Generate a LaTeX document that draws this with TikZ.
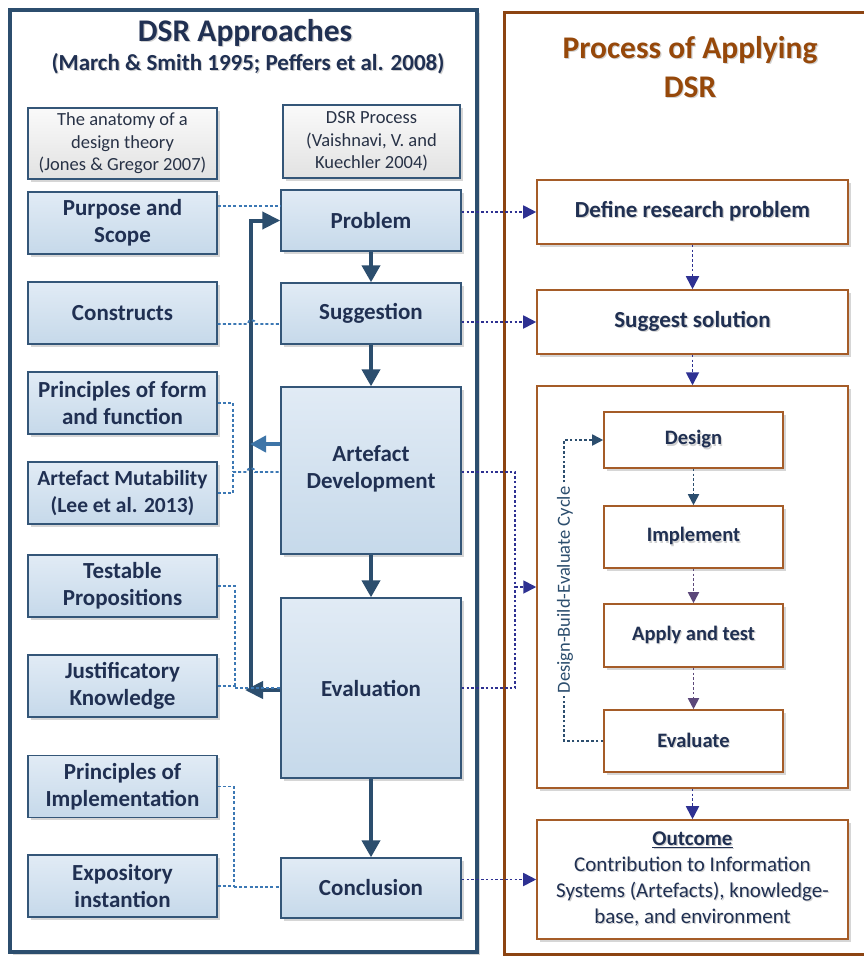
\documentclass[tikz,border=0pt]{standalone}
\usepackage{fontspec}
\setmainfont{Carlito}
\usetikzlibrary{arrows.meta,shadows,calc}

\definecolor{frameblue}{RGB}{44,78,110}
\definecolor{boxedge}{RGB}{52,86,120}
\definecolor{boxtop}{RGB}{225,235,245}
\definecolor{boxbot}{RGB}{198,217,234}
\definecolor{greytop}{RGB}{250,250,250}
\definecolor{greybot}{RGB}{226,226,226}
\definecolor{navytext}{RGB}{32,48,82}
\definecolor{greytext}{RGB}{40,50,70}
\definecolor{brownframe}{RGB}{140,68,18}
\definecolor{browntitle}{RGB}{150,72,10}
\definecolor{brownbox}{RGB}{165,92,40}
\definecolor{dotblue}{RGB}{60,120,180}
\definecolor{dotnavy}{RGB}{46,49,146}
\definecolor{lightarrow}{RGB}{62,117,168}
\definecolor{dotpurple}{RGB}{92,72,122}

% text with a soft offset shadow (single line)
\newcommand\txtsh[1]{\makebox[0pt][l]{\kern1.2pt\raisebox{-1.2pt}{\textcolor{black!18}{#1}}}#1}

\begin{document}
\begin{tikzpicture}[x=1pt,y=-1pt,
  boxshadow/.style={drop shadow={shadow xshift=2.5pt,shadow yshift=-2.5pt,opacity=0.16,fill=black}},
  bluebox/.style={draw=boxedge,line width=1.4pt,top color=boxtop,bottom color=boxbot,
    inner sep=0pt,align=center,text=navytext,font=\fontsize{23}{27}\selectfont\bfseries,boxshadow},
  greybox/.style={draw=boxedge,line width=1.2pt,top color=greytop,bottom color=greybot,
    inner sep=0pt,align=center,text=greytext,font=\fontsize{18.5}{22.5}\selectfont,boxshadow},
  brbox/.style={draw=brownbox,line width=1.6pt,fill=white,inner sep=0pt,align=center,
    text=navytext,font=\fontsize{23}{27}\selectfont\bfseries,boxshadow},
  lconn/.style={draw=dotblue,line width=1.8pt,dash pattern=on 3pt off 2.2pt},
  rline/.style={draw=dotnavy,line width=1.8pt,dash pattern=on 2.6pt off 2.2pt},
  rconn/.style={rline,-{Triangle[length=13pt,width=13pt]}},
  cyc/.style={line width=1.8pt,dash pattern=on 2.6pt off 2.2pt,-{Triangle[length=11pt,width=11pt]}},
  fbline/.style={draw=frameblue,line width=4pt},
  bigarrow/.style={fbline,-{Triangle[length=17pt,width=18pt]}},
]
\useasboundingbox (0,0) rectangle (864,956);

% outer frames
\draw[frameblue,line width=4.5pt,fill=white,boxshadow] (10,10) rectangle (477,952);
\draw[brownframe,line width=3pt,fill=white,boxshadow] (504,12) rectangle (880,954);

% titles
\node[anchor=base,inner sep=0pt,text=navytext,font=\fontsize{31.5}{38}\selectfont\bfseries]
  (ttlL) at (245,41) {\txtsh{DSR Approaches}};
\node[anchor=base,inner sep=0pt,text=navytext,font=\fontsize{23}{28}\selectfont\bfseries]
  (subL) at (248,70) {\txtsh{(March \& Smith 1995; Peffers et al. 2008)}};
\node[anchor=north,inner sep=0pt,align=center,text=browntitle,font=\fontsize{31.5}{39}\selectfont\bfseries]
  (ttlR) at (690,36) {\txtsh{Process of Applying}\\\txtsh{DSR}};

% column headings
\node[greybox,minimum width=189pt,minimum height=71pt] (anat) at (122.5,143.5)
  {The anatomy of a\\design theory\\(Jones \& Gregor 2007)};
\node[greybox,minimum width=177pt,minimum height=73pt] (dsrp) at (371.5,141.5)
  {DSR Process\\(Vaishnavi, V. and\\Kuechler 2004)};

% design theory components
\tikzset{lbox/.style={bluebox,minimum width=189pt,minimum height=62pt}}
\node[lbox] (purp)  at (122.5,223)   {Purpose and\\Scope};
\node[lbox] (cons)  at (122.5,313)   {Constructs};
\node[lbox] (pff)   at (122.5,403)   {Principles of form\\and function};
\node[lbox,font=\fontsize{21.5}{27}\selectfont\bfseries] (amut) at (122.5,493) {Artefact Mutability\\(Lee et al. 2013)};
\node[lbox] (testp) at (122.5,586)   {Testable\\Propositions};
\node[lbox] (justk) at (122.5,686)   {Justificatory\\Knowledge};
\node[lbox] (pimp)  at (122.5,786.5) {Principles of\\Implementation};
\node[lbox] (expo)  at (122.5,886)   {Expository\\instantion};

% DSR process steps
\tikzset{mbox/.style={bluebox,minimum width=180pt}}
\node[mbox,minimum height=61pt]  (prob)  at (371,220.5) {Problem};
\node[mbox,minimum height=61pt]  (sugg)  at (371,313.5) {Suggestion};
\node[mbox,minimum height=167pt] (artd)  at (371,470.5)
  {\raisebox{22pt}{\begin{tabular}{@{}c@{}}Artefact\\Development\end{tabular}}};
\node[mbox,minimum height=180pt] (eval)  at (371,688)   {Evaluation};
\node[mbox,minimum height=60pt]  (concl) at (371,888)   {Conclusion};

% process of applying DSR
\node[brbox,minimum width=311pt,minimum height=64pt] (defp)  at (692.5,212) {\txtsh{Define research problem}};
\node[brbox,minimum width=311pt,minimum height=64pt] (suggs) at (692.5,322) {\txtsh{Suggest solution}};
\node[brbox,line width=1.5pt,minimum width=311pt,minimum height=402pt] (cycle) at (692.5,587) {};
\tikzset{cbox/.style={brbox,minimum width=179pt,font=\fontsize{20.5}{25}\selectfont\bfseries}}
\node[cbox,minimum height=56pt] (des)   at (693.5,440)   {\txtsh{Design}};
\node[cbox,minimum height=62pt] (impl)  at (693.5,537)   {\txtsh{Implement}};
\node[cbox,minimum height=63pt] (appt)  at (693.5,635.5) {\txtsh{Apply and test}};
\node[cbox,minimum height=62pt] (evalu) at (693.5,741)   {\txtsh{Evaluate}};
\node[brbox,minimum width=311pt,minimum height=119pt,font=\fontsize{21}{25.8}\selectfont] (outc) at (692.5,879.5)
  {{\bfseries\txtsh{\underline{Outcome}}}\\\txtsh{Contribution to Information}\\
   \txtsh{Systems (Artefacts), knowledge-}\\\txtsh{base, and environment}};

% feedback loop back to the problem
\coordinate (fbbot) at (251,692);
\coordinate (evtip) at (245,690);
\coordinate (adtip) at (250,444);
\draw[fbline,-{Triangle[length=18pt,width=17pt]}] (fbbot) |- (prob.west);
\draw[fbline,-{Triangle[length=18pt,width=17pt]}] (eval.west |- evtip) -- (evtip);
\draw[draw=lightarrow,line width=4pt,-{Triangle[length=16pt,width=16pt]}] (artd.west |- adtip) -- (adtip);

% main process flow
\draw[bigarrow] (prob) -- (sugg);
\draw[bigarrow] (sugg) -- (artd);
\draw[bigarrow] (artd) -- (eval);
\draw[bigarrow] (eval) -- (concl);

% component links
\coordinate (pj) at ($(purp.east)+(0,-17)$);
\draw[lconn] (pj) -- (pj -| prob.west);
\coordinate (cj) at ($(cons.east)+(0,11)$);
\draw[lconn] (cj) -- ++(30,0) arc[start angle=180,end angle=0,radius=4pt] -- (cj -| sugg.west);
\coordinate (ja) at (233,472);
\draw[lconn] (pff.east) -| (ja);
\draw[lconn] (amut.east) -| (ja);
\draw[lconn] (ja) -- ++(14,0) arc[start angle=180,end angle=0,radius=4pt] -- (ja -| artd.west);
\coordinate (jb) at (235,688);
\draw[lconn] (testp.east) -| (jb);
\draw[lconn] (justk.east) -| (jb);
\draw[lconn] (jb) -- (jb -| eval.west);
\coordinate (jc) at (234,887);
\draw[lconn] (pimp.east) -| (jc);
\draw[lconn] (expo.east) -| (jc);
\draw[lconn] (jc) -- (jc -| concl.west);

% links to the applied process
\draw[rconn] (prob.east |- defp.west) -- (defp.west);
\draw[rconn] (sugg.east |- suggs.west) -- (suggs.west);
\coordinate (ad) at ($(artd.east)+(0,1.5)$);
\coordinate (jr) at ($(cycle.west)+(-21,0)$);
\draw[rline] (ad) -| (jr);
\draw[rline] (eval.east) -| (jr);
\draw[rconn] (jr) -- (cycle.west);
\draw[rconn] (concl.east |- outc.west) -- (outc.west);
\draw[rconn] (defp) -- (suggs);
\draw[rconn] (suggs) -- (cycle);
\draw[rconn] (cycle) -- (outc);

% design-build-evaluate cycle
\draw[cyc,draw=frameblue] (des) -- (impl);
\draw[cyc,draw=dotpurple] (impl) -- (appt);
\draw[cyc,draw=dotpurple] (appt) -- (evalu);
\draw[cyc,draw=frameblue] (evalu.west) -| ($(des.west)+(-39,0)$) -- (des.west);
\node[rotate=90,fill=white,inner sep=1.5pt,text=frameblue,font=\fontsize{18.5}{22}\selectfont]
  (cyclbl) at (565,590) {Design-Build-Evaluate Cycle};
\end{tikzpicture}
\end{document}
